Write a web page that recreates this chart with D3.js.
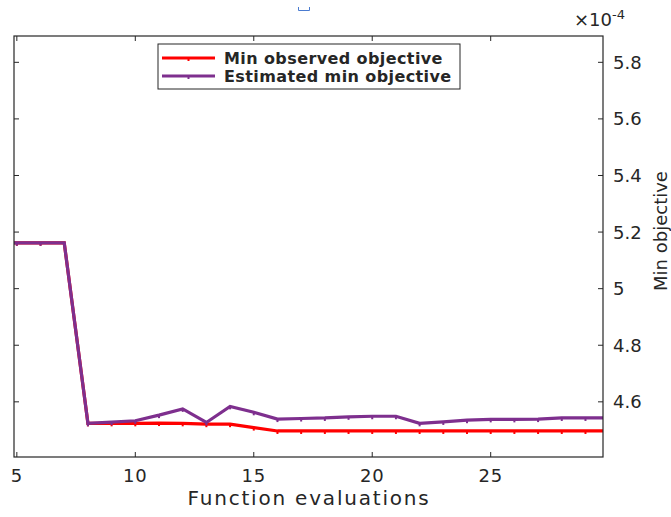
<!DOCTYPE html>
<html>
<head>
<meta charset="utf-8">
<script src="https://cdn.jsdelivr.net/npm/d3@7"></script>
<style>
  body { margin: 0; background: #fff; }
  text { font-family: "DejaVu Sans", sans-serif; fill: #262626; }
</style>
</head>
<body>
<svg id="chart"></svg>
<script>
// Function evaluation index
const evals = [4, 5, 6, 7, 8, 9, 10, 11, 12, 13, 14, 15, 16, 17, 18, 19, 20, 21, 22, 23, 24, 25, 26, 27, 28, 29, 30];
// values in units of 1e-4
const minObserved = [5.162, 5.162, 5.162, 5.162, 4.524, 4.524, 4.524, 4.525, 4.524, 4.521, 4.521, 4.509, 4.497, 4.497, 4.497, 4.497, 4.497, 4.497, 4.497, 4.497, 4.497, 4.497, 4.497, 4.497, 4.497, 4.497, 4.497];
const estimatedMin = [5.162, 5.162, 5.162, 5.162, 4.524, 4.528, 4.533, 4.553, 4.575, 4.527, 4.584, 4.563, 4.539, 4.541, 4.543, 4.547, 4.549, 4.549, 4.524, 4.529, 4.535, 4.538, 4.538, 4.539, 4.543, 4.543, 4.543];
const xTicks = [5, 10, 15, 20, 25];
const yTicks = [4.6, 4.8, 5, 5.2, 5.4, 5.6, 5.8];

const width = 671;
const height = 517;
const margin = { top: 36, right: 68, bottom: 60, left: 14 };
const chartWidth = width - margin.left - margin.right;
const chartHeight = height - margin.top - margin.bottom;

const svg = d3.select('#chart')
  .attr('width', width)
  .attr('height', height);

const g = svg.append('g')
  .attr('transform', `translate(${margin.left}, ${margin.top})`);

const xScale = d3.scaleLinear().domain([4.88, 29.74]).range([0, chartWidth]);
const yScale = d3.scaleLinear().domain([4.405, 5.893]).range([chartHeight, 0]);

const axisColor = '#262626';
const tickLen = 5;

g.append('clipPath').attr('id', 'clip')
  .append('rect').attr('width', chartWidth).attr('height', chartHeight);

// Series
const series = [
  { name: 'Min observed objective', values: minObserved, color: '#ff0000' },
  { name: 'Estimated min objective', values: estimatedMin, color: '#7e2f8e' },
];

const line = d3.line()
  .x((d) => xScale(d[0]))
  .y((d) => yScale(d[1]));

const plot = g.append('g').attr('clip-path', 'url(#clip)');

series.forEach((s) => {
  const pts = evals.map((e, i) => [e, s.values[i]]);
  plot.append('path')
    .datum(pts)
    .attr('fill', 'none')
    .attr('stroke', s.color)
    .attr('stroke-width', 3.2)
    .attr('stroke-linejoin', 'miter')
    .attr('d', line);

  // small point markers
  plot.selectAll(null)
    .data(pts)
    .enter()
    .append('rect')
    .attr('x', (d) => xScale(d[0]) - 1)
    .attr('y', (d) => yScale(d[1]))
    .attr('width', 2)
    .attr('height', 3)
    .attr('fill', s.color);
});

// Box
g.append('rect')
  .attr('width', chartWidth)
  .attr('height', chartHeight)
  .attr('fill', 'none')
  .attr('stroke', axisColor)
  .attr('stroke-width', 1.2);

// X ticks (inside, top and bottom)
xTicks.forEach((t) => {
  const x = xScale(t);
  g.append('line').attr('x1', x).attr('x2', x).attr('y1', chartHeight).attr('y2', chartHeight - tickLen)
    .attr('stroke', axisColor);
  g.append('line').attr('x1', x).attr('x2', x).attr('y1', 0).attr('y2', tickLen)
    .attr('stroke', axisColor);
  g.append('text')
    .attr('x', x)
    .attr('y', chartHeight + 25)
    .attr('text-anchor', 'middle')
    .style('font-size', '18px')
    .style('letter-spacing', '0.8px')
    .text(t);
});

// Y ticks (inside, left and right), labels on right
yTicks.forEach((t) => {
  const y = yScale(t);
  g.append('line').attr('x1', 0).attr('x2', tickLen).attr('y1', y).attr('y2', y)
    .attr('stroke', axisColor);
  g.append('line').attr('x1', chartWidth).attr('x2', chartWidth - tickLen).attr('y1', y).attr('y2', y)
    .attr('stroke', axisColor);
  g.append('text')
    .attr('x', chartWidth + 10)
    .attr('y', y)
    .attr('dy', '0.36em')
    .style('font-size', '18px')
    .text(d3.format('~g')(t));
});

// Exponent label
const expo = svg.append('text')
  .attr('x', 574)
  .attr('y', 26)
  .style('font-size', '18px');
expo.append('tspan').text('\u00d710');
expo.append('tspan').attr('dy', -7).style('font-size', '13px').text('-4');

// Axis labels
svg.append('text')
  .attr('x', 309)
  .attr('y', 505)
  .attr('text-anchor', 'middle')
  .style('font-size', '20px')
  .style('letter-spacing', '1.8px')
  .text('Function evaluations');

svg.append('text')
  .attr('transform', 'translate(667, 231) rotate(-90)')
  .attr('text-anchor', 'middle')
  .style('font-size', '18px')
  .text('Min objective');

// Legend
const legend = svg.append('g').attr('transform', 'translate(158, 44)');
legend.append('rect')
  .attr('width', 302)
  .attr('height', 45)
  .attr('fill', '#fff')
  .attr('stroke', axisColor)
  .attr('stroke-width', 1);

series.forEach((s, i) => {
  const y = 14 + i * 18;
  legend.append('line')
    .attr('x1', 4).attr('x2', 57).attr('y1', y).attr('y2', y)
    .attr('stroke', s.color).attr('stroke-width', 3.2);
  legend.append('rect')
    .attr('x', 29.5).attr('y', y).attr('width', 2).attr('height', 3).attr('fill', s.color);
  legend.append('text')
    .attr('x', 66)
    .attr('y', y)
    .attr('dy', '0.36em')
    .style('font-size', '16px')
    .style('font-weight', 'bold')
    .style('letter-spacing', '0.4px')
    .text(s.name);
});

// small blue mark near the top
svg.append('path')
  .attr('d', 'M298.5,7 V10.5 H309.5 V7')
  .attr('fill', 'none')
  .attr('stroke', '#4a7bd0')
  .attr('stroke-width', 1);
</script>
</body>
</html>
